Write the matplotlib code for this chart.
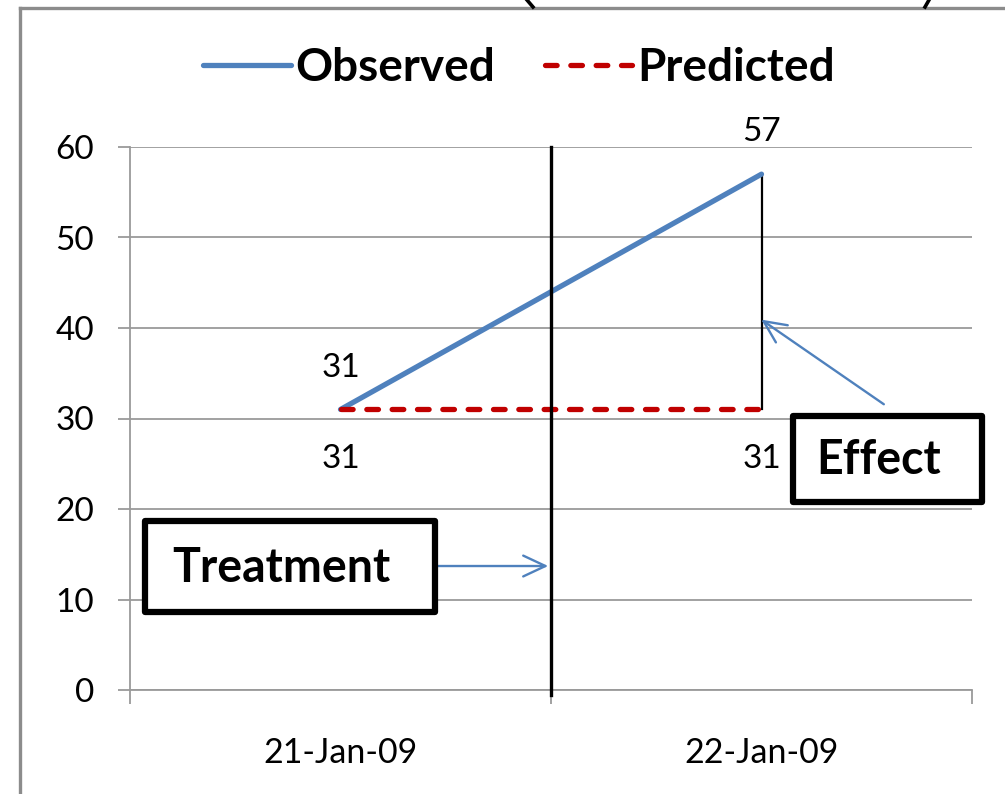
import matplotlib.pyplot as plt
from matplotlib.lines import Line2D
from matplotlib.patches import Rectangle

plt.rcParams['font.family'] = ['Lato', 'DejaVu Sans']

dates = ['21-Jan-09', '22-Jan-09']
observed = [31, 57]
predicted = [31, 31]
x = [0, 1]

W, H = 1005, 794
fig = plt.figure(figsize=(W / 100, H / 100), dpi=100)
ax = fig.add_axes([130 / W, 1 - 690 / H, (972 - 130) / W, (690 - 147) / H])

grey = '#9a9a9a'
blue = '#4F81BD'
red = '#C00000'

ax.set_xlim(-0.5, 1.5)
ax.set_ylim(0, 60)
ax.set_yticks(range(0, 61, 10))
ax.yaxis.grid(True, color=grey, lw=1.3)
ax.set_axisbelow(True)
for s in ['top', 'right']:
    ax.spines[s].set_visible(False)
for s in ['left', 'bottom']:
    ax.spines[s].set_color(grey)
    ax.spines[s].set_linewidth(1.3)
ax.tick_params(axis='y', length=9, width=1.3, color=grey, pad=17, labelsize=24)
ax.set_xticks([-0.5, 0.5, 1.5])
ax.set_xticklabels([])
ax.tick_params(axis='x', which='major', length=10, width=1.3, color=grey)
ax.set_xticks(x, minor=True)
ax.set_xticklabels(dates, minor=True)
ax.tick_params(axis='x', which='minor', length=0, pad=34, labelsize=24.5)

ax.plot(x, observed, color=blue, lw=3.8, solid_capstyle='round', label='Observed', zorder=4)
ax.plot(x, predicted, color=red, lw=3.8, dashes=(2.2, 2.6), dash_capstyle='round',
        label='Predicted', zorder=4)

# treatment divider and effect gap
ax.axvline(0.5, ymin=-0.01, ymax=1, color='black', lw=2.4, clip_on=False, zorder=5)
ax.plot([1, 1], [predicted[1], observed[1]], color='black', lw=1.6, zorder=3)

# value labels
for xi, v in zip(x, observed):
    ax.annotate(str(v), (xi, v), xytext=(0, 30), textcoords='offset points',
                ha='center', va='center', fontsize=24)
for xi, v in zip(x, predicted):
    ax.annotate(str(v), (xi, v), xytext=(0, -36), textcoords='offset points',
                ha='center', va='center', fontsize=24)

leg = ax.legend(loc='center', bbox_to_anchor=(519 / W, 1 - 68 / H),
                bbox_transform=fig.transFigure, ncol=2, frameon=False,
                prop={'weight': 'bold', 'size': 33}, handlelength=1.9,
                handletextpad=0.1, columnspacing=1.1)

# callout boxes
def box(x0, y0, x1, y1, text):
    fig.patches.append(Rectangle((x0 / W, 1 - y1 / H), (x1 - x0) / W, (y1 - y0) / H,
                                 transform=fig.transFigure, facecolor='white',
                                 edgecolor='black', lw=4.5, joinstyle='round', zorder=6))
    fig.text(((x0 + x1) / 2 - 9) / W, 1 - ((y0 + y1) / 2 + 1) / H,
             text, ha='center', va='center', fontsize=33.5, fontweight='bold', zorder=7)

box(145, 521, 435, 612, 'Treatment')
box(793, 416, 982, 502, 'Effect')

head = '->,head_length=1.6,head_width=0.75'
ax.annotate('', xy=(0.5, 13.7), xytext=(0.224, 13.7),
            arrowprops=dict(arrowstyle=head, color=blue, lw=1.7))
ax.annotate('', xy=(0.994, 41.1), xytext=(1.296, 31.4),
            arrowprops=dict(arrowstyle=head, color=blue, lw=1.7),
            annotation_clip=False)

# outer frame edges and shape tails above it
fig.add_artist(Line2D([20 / W, 20 / W], [0, 1 - 8 / H], color='#8c8c8c', lw=2.4))
fig.add_artist(Line2D([20 / W, 1], [1 - 8 / H, 1 - 8 / H], color='#8c8c8c', lw=2.4))
fig.add_artist(Line2D([527 / W, 533 / W], [1, 1 - 7 / H], color='black', lw=2.6))
fig.add_artist(Line2D([929 / W, 925 / W], [1, 1 - 7 / H], color='black', lw=2.6))

fig.savefig('out.png', dpi=100)
